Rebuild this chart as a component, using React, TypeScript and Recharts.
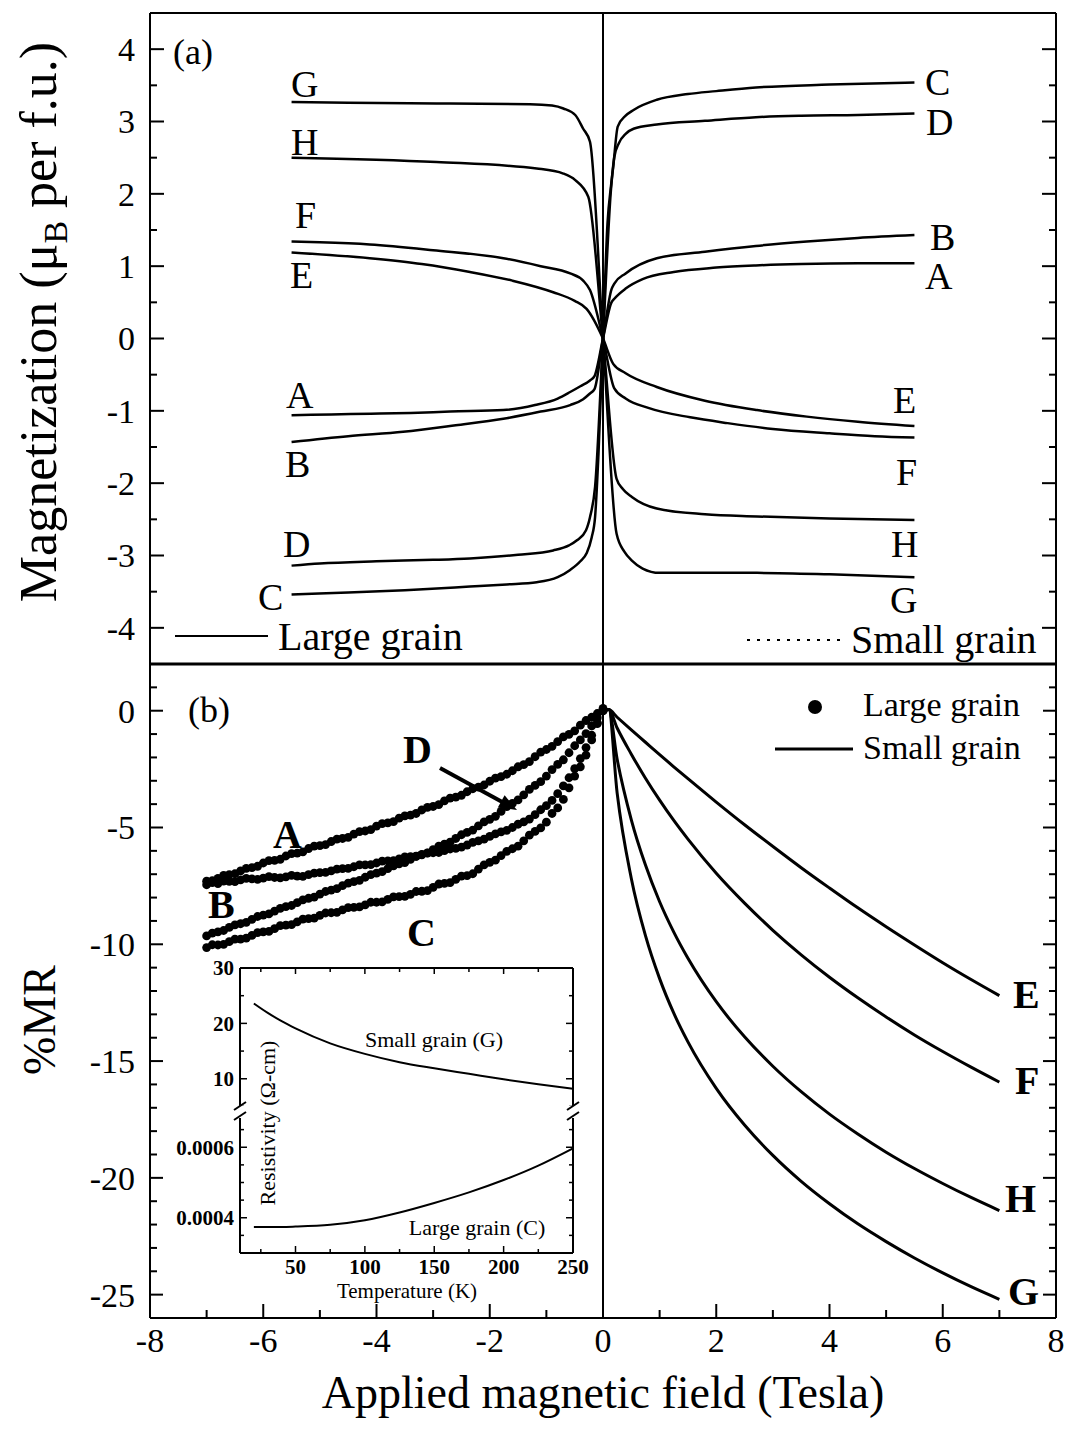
import React from 'react'
import { ComposedChart, Line, Scatter, XAxis, YAxis, ReferenceLine } from 'recharts'

const SERIF = '"Liberation Serif", "Times New Roman", Times, serif'

// ---------- ticks ----------
const fieldTicks = [-8, -7, -6, -5, -4, -3, -2, -1, 0, 1, 2, 3, 4, 5, 6, 7, 8]
const fieldMajors = [-8, -6, -4, -2, 0, 2, 4, 6, 8]
const magTicks = [-4, -3.5, -3, -2.5, -2, -1.5, -1, -0.5, 0, 0.5, 1, 1.5, 2, 2.5, 3, 3.5, 4]
const magMajors = [-4, -3, -2, -1, 0, 1, 2, 3, 4]
const mrTicks = [-25, -24, -23, -22, -21, -20, -19, -18, -17, -16, -15, -14, -13, -12, -11, -10, -9, -8, -7, -6, -5, -4, -3, -2, -1, 0, 1]
const mrMajors = [-25, -20, -15, -10, -5, 0]
const tempTicks = [25, 50, 75, 100, 125, 150, 175, 200, 225, 250]
const tempMajors = [50, 100, 150, 200, 250]
const resHiTicks = [5, 10, 15, 20, 25, 30]
const resHiMajors = [10, 20, 30]
const resLoTicks = [0.00035, 0.0004, 0.00045, 0.0005, 0.00055, 0.0006, 0.00065]
const resLoMajors = [0.0004, 0.0006]

// ---------- panel (a): M(H) loops ----------
const magA = [
  { h: -5.5, m: -1.06 }, { h: -4.8, m: -1.05 }, { h: -4.1, m: -1.04 }, { h: -3.4, m: -1.03 }, { h: -2.7, m: -1.01 },
  { h: -1.76, m: -0.99 }, { h: -1.2, m: -0.92 }, { h: -0.8, m: -0.83 }, { h: -0.58, m: -0.74 }, { h: -0.4, m: -0.66 },
  { h: -0.23, m: -0.58 }, { h: -0.15, m: -0.52 }, { h: 0, m: 0 }, { h: 0.15, m: 0.5 }, { h: 0.2, m: 0.55 },
  { h: 0.4, m: 0.69 }, { h: 0.7, m: 0.82 }, { h: 1.25, m: 0.92 }, { h: 2.0, m: 0.98 }, { h: 2.7, m: 1.01 },
  { h: 3.5, m: 1.03 }, { h: 4.5, m: 1.04 }, { h: 5.5, m: 1.04 },
]
const magB = [
  { h: -5.5, m: -1.43 }, { h: -4.5, m: -1.35 }, { h: -3.53, m: -1.29 }, { h: -2.6, m: -1.2 }, { h: -1.76, m: -1.11 },
  { h: -1.1, m: -1.01 }, { h: -0.58, m: -0.92 }, { h: -0.35, m: -0.84 }, { h: -0.23, m: -0.76 }, { h: -0.15, m: -0.7 },
  { h: 0, m: 0 }, { h: 0.15, m: 0.68 }, { h: 0.2, m: 0.76 }, { h: 0.4, m: 0.9 }, { h: 0.95, m: 1.11 },
  { h: 1.8, m: 1.2 }, { h: 2.7, m: 1.28 }, { h: 3.6, m: 1.34 }, { h: 4.5, m: 1.39 }, { h: 5.5, m: 1.43 },
]
const magC = [
  { h: -5.5, m: -3.54 }, { h: -4.5, m: -3.51 }, { h: -3.5, m: -3.48 }, { h: -2.35, m: -3.43 }, { h: -1.7, m: -3.4 },
  { h: -1.17, m: -3.37 }, { h: -0.8, m: -3.3 }, { h: -0.58, m: -3.2 }, { h: -0.4, m: -3.08 }, { h: -0.29, m: -2.97 },
  { h: -0.2, m: -2.75 }, { h: -0.14, m: -2.47 }, { h: -0.08, m: -1.6 }, { h: 0, m: 0 }, { h: 0.08, m: 1.6 },
  { h: 0.14, m: 2.1 }, { h: 0.18, m: 2.37 }, { h: 0.26, m: 2.93 }, { h: 0.4, m: 3.08 }, { h: 0.54, m: 3.16 },
  { h: 0.95, m: 3.3 }, { h: 1.5, m: 3.38 }, { h: 2.0, m: 3.42 }, { h: 2.7, m: 3.47 }, { h: 4.0, m: 3.51 }, { h: 5.5, m: 3.54 },
]
const magD = [
  { h: -5.5, m: -3.14 }, { h: -5.0, m: -3.11 }, { h: -4.0, m: -3.08 }, { h: -3.0, m: -3.06 }, { h: -2.35, m: -3.04 },
  { h: -1.5, m: -2.99 }, { h: -0.88, m: -2.93 }, { h: -0.6, m: -2.86 }, { h: -0.46, m: -2.79 }, { h: -0.3, m: -2.65 },
  { h: -0.23, m: -2.47 }, { h: -0.14, m: -2.05 }, { h: 0, m: 0 }, { h: 0.14, m: 2.05 }, { h: 0.2, m: 2.51 },
  { h: 0.28, m: 2.7 }, { h: 0.4, m: 2.83 }, { h: 0.54, m: 2.9 }, { h: 0.95, m: 2.96 }, { h: 1.8, m: 3.01 },
  { h: 2.7, m: 3.06 }, { h: 3.5, m: 3.08 }, { h: 4.5, m: 3.09 }, { h: 5.5, m: 3.11 },
]
const magE = [
  { h: -5.5, m: 1.19 }, { h: -4.12, m: 1.11 }, { h: -3.2, m: 1.03 }, { h: -2.35, m: 0.92 }, { h: -1.6, m: 0.8 },
  { h: -0.88, m: 0.64 }, { h: -0.5, m: 0.52 }, { h: -0.29, m: 0.41 }, { h: 0, m: 0 }, { h: 0.18, m: -0.35 },
  { h: 0.4, m: -0.48 }, { h: 0.95, m: -0.67 }, { h: 1.8, m: -0.86 }, { h: 2.72, m: -0.99 }, { h: 3.6, m: -1.08 },
  { h: 4.5, m: -1.15 }, { h: 5.5, m: -1.21 },
]
const magF = [
  { h: -5.5, m: 1.34 }, { h: -5.0, m: 1.33 }, { h: -4.12, m: 1.3 }, { h: -3.0, m: 1.22 }, { h: -1.76, m: 1.11 },
  { h: -1.1, m: 1.0 }, { h: -0.58, m: 0.9 }, { h: -0.35, m: 0.8 }, { h: -0.23, m: 0.67 }, { h: 0, m: 0 },
  { h: 0.2, m: -0.69 }, { h: 0.4, m: -0.83 }, { h: 0.8, m: -0.96 }, { h: 1.54, m: -1.09 }, { h: 2.2, m: -1.17 },
  { h: 3.0, m: -1.25 }, { h: 4.0, m: -1.31 }, { h: 4.8, m: -1.35 }, { h: 5.5, m: -1.37 },
]
const magG = [
  { h: -5.5, m: 3.27 }, { h: -4.5, m: 3.26 }, { h: -2.94, m: 3.25 }, { h: -1.29, m: 3.24 }, { h: -0.9, m: 3.22 },
  { h: -0.7, m: 3.18 }, { h: -0.49, m: 3.09 }, { h: -0.35, m: 2.9 }, { h: -0.23, m: 2.72 }, { h: 0, m: 0 },
  { h: 0.24, m: -2.7 }, { h: 0.38, m: -2.95 }, { h: 0.51, m: -3.07 }, { h: 0.7, m: -3.18 }, { h: 1.0, m: -3.24 },
  { h: 2.72, m: -3.24 }, { h: 4.0, m: -3.26 }, { h: 5.5, m: -3.3 },
]
const magH = [
  { h: -5.5, m: 2.5 }, { h: -2.94, m: 2.44 }, { h: -1.17, m: 2.35 }, { h: -0.7, m: 2.28 }, { h: -0.49, m: 2.19 },
  { h: -0.26, m: 1.96 }, { h: 0, m: 0 }, { h: 0.24, m: -1.94 }, { h: 0.35, m: -2.08 }, { h: 0.51, m: -2.19 },
  { h: 0.95, m: -2.35 }, { h: 1.8, m: -2.43 }, { h: 2.72, m: -2.46 }, { h: 4.0, m: -2.49 }, { h: 5.5, m: -2.51 },
]
const magCurves = [magA, magB, magC, magD, magE, magF, magG, magH]

// ---------- panel (b): large grain dots (A-D), two field sweeps ----------
const sweepUp = [
  -7.0, -6.8, -6.6, -6.4, -6.2, -6.0, -5.8, -5.6, -5.4, -5.2, -5.0, -4.8, -4.6, -4.4, -4.2, -4.0, -3.8, -3.6,
  -3.4, -3.2, -3.0, -2.8, -2.6, -2.4, -2.2, -2.0, -1.8, -1.6, -1.4, -1.2, -1.0, -0.8, -0.6, -0.4, -0.2, 0.0,
]
const sweepDown = [
  -6.9, -6.7, -6.5, -6.3, -6.1, -5.9, -5.7, -5.5, -5.3, -5.1, -4.9, -4.7, -4.5, -4.3, -4.1, -3.9, -3.7, -3.5,
  -3.3, -3.1, -2.9, -2.7, -2.5, -2.3, -2.1, -1.9, -1.7, -1.5, -1.3, -1.1, -0.9, -0.7, -0.5, -0.3, -0.1,
]
const mrA = [
  -7.3, -7.18, -7.02, -6.86, -6.72, -6.52, -6.41, -6.22, -6.1, -5.9, -5.78, -5.6, -5.47, -5.28, -5.15, -4.94, -4.8, -4.6,
  -4.47, -4.25, -4.1, -3.86, -3.7, -3.47, -3.27, -3.02, -2.82, -2.57, -2.31, -1.97, -1.66, -1.32, -1.01, -0.62, -0.28, 0.1,
]
const mrA2 = [
  -7.28, -7.05, -6.98, -6.75, -6.66, -6.42, -6.36, -6.12, -6.04, -5.8, -5.73, -5.5, -5.42, -5.18, -5.09, -4.83, -4.75, -4.5,
  -4.4, -4.14, -4.02, -3.74, -3.62, -3.34, -3.18, -2.89, -2.72, -2.4, -2.18, -1.77, -1.53, -1.12, -0.86, -0.42, -0.12,
]
const mrB = [
  -9.64, -9.47, -9.28, -9.12, -8.93, -8.75, -8.58, -8.39, -8.22, -8.03, -7.85, -7.68, -7.49, -7.32, -7.13, -6.95, -6.76, -6.56,
  -6.36, -6.15, -5.95, -5.71, -5.47, -5.21, -4.93, -4.65, -4.31, -3.97, -3.6, -3.2, -2.8, -2.3, -1.8, -1.25, -0.65, 0.0,
]
const mrB2 = [
  -9.52, -9.41, -9.17, -9.06, -8.81, -8.7, -8.46, -8.34, -8.1, -7.98, -7.74, -7.62, -7.38, -7.26, -7.02, -6.89, -6.64, -6.5,
  -6.23, -6.09, -5.8, -5.63, -5.31, -5.11, -4.76, -4.52, -4.11, -3.82, -3.37, -3.04, -2.52, -2.1, -1.5, -0.98, -0.3,
]
const mrC = [
  -10.14, -10.03, -9.89, -9.78, -9.62, -9.47, -9.33, -9.18, -9.04, -8.9, -8.76, -8.65, -8.53, -8.42, -8.31, -8.2, -8.08, -7.96,
  -7.86, -7.73, -7.56, -7.39, -7.22, -7.06, -6.78, -6.49, -6.2, -5.91, -5.57, -5.17, -4.77, -4.16, -3.3, -2.4, -1.25, 0.0,
]
const mrC2 = [
  -10.02, -10.0, -9.78, -9.74, -9.5, -9.45, -9.2, -9.16, -8.92, -8.88, -8.66, -8.63, -8.43, -8.4, -8.2, -8.18, -7.97, -7.95,
  -7.74, -7.7, -7.42, -7.36, -7.08, -6.98, -6.6, -6.4, -6.02, -5.8, -5.33, -5.02, -4.4, -3.8, -2.8, -1.9, -0.55,
]
const mrD = [
  -7.45, -7.4, -7.31, -7.24, -7.2, -7.17, -7.14, -7.11, -7.08, -7.02, -6.93, -6.86, -6.76, -6.68, -6.6, -6.52, -6.43, -6.34,
  -6.25, -6.17, -6.08, -5.99, -5.89, -5.75, -5.57, -5.38, -5.19, -5.0, -4.76, -4.45, -4.06, -3.55, -2.87, -2.05, -1.05, 0.0,
]
const mrD2 = [
  -7.36, -7.3, -7.32, -7.18, -7.22, -7.1, -7.16, -7.05, -7.09, -6.95, -6.92, -6.78, -6.75, -6.6, -6.59, -6.44, -6.42, -6.26,
  -6.24, -6.1, -6.07, -5.92, -5.84, -5.64, -5.5, -5.27, -5.12, -4.86, -4.64, -4.24, -3.84, -3.22, -2.48, -1.58, -0.52,
]

// ---------- panel (b): small grain lines (E-H) ----------
const lineField = [0, 0.1, 0.25, 0.5, 0.75, 1, 1.25, 1.5, 2, 2.5, 3, 3.5, 4, 4.5, 5, 5.5, 6, 6.5, 7]
const mrE = [0, 0.05, -0.28, -0.82, -1.35, -1.88, -2.4, -2.91, -3.91, -4.88, -5.81, -6.72, -7.59, -8.44, -9.25, -10.03, -10.79, -11.51, -12.2]
const mrF = [0, 0.05, -0.74, -1.86, -2.89, -3.83, -4.7, -5.5, -6.96, -8.24, -9.4, -10.45, -11.41, -12.29, -13.11, -13.88, -14.59, -15.26, -15.9]
const mrH = [0, 0.05, -2.08, -4.67, -6.61, -8.18, -9.48, -10.6, -12.46, -13.96, -15.22, -16.31, -17.27, -18.12, -18.9, -19.6, -20.24, -20.84, -21.4]
const mrG = [0, 0.05, -3.53, -7.18, -9.63, -11.47, -12.95, -14.18, -16.17, -17.74, -19.04, -20.15, -21.11, -21.97, -22.73, -23.43, -24.07, -24.66, -25.2]

// ---------- inset: resistivity vs temperature ----------
const insetTemp = [20, 30, 40, 50, 75, 100, 125, 150, 175, 200, 225, 250]
const resSmall = [23.6, 21.9, 20.4, 19.1, 16.4, 14.5, 13.0, 11.9, 10.9, 9.9, 9.0, 8.2]
const resLarge = [0.000374, 0.000374, 0.000374, 0.000375, 0.00038, 0.000393, 0.000415, 0.000442, 0.000472, 0.000507, 0.000548, 0.000597]

const toPts = (field: number[], vals: number[]) => field.map((h, i) => ({ h, mr: vals[i] }))
const dotSets = [
  toPts(sweepUp, mrA), toPts(sweepDown, mrA2), toPts(sweepUp, mrB), toPts(sweepDown, mrB2),
  toPts(sweepUp, mrC), toPts(sweepDown, mrC2), toPts(sweepUp, mrD), toPts(sweepDown, mrD2),
]
const lineSets = [mrE, mrF, mrH, mrG].map(vals => toPts(lineField, vals))
const smallRes = insetTemp.map((t, i) => ({ t, r: resSmall[i] }))
const largeRes = insetTemp.map((t, i) => ({ t, r: resLarge[i] }))

const AX = { stroke: '#000', strokeWidth: 2 }

interface TickOpt {
  side: 'left' | 'right' | 'top' | 'bottom'
  majors: number[]
  len: number
  minor: number
  label?: boolean
  size?: number
  bold?: boolean
  gap?: number
  sw?: number
  fmt?: (v: number) => string
}

const isIn = (v: number, list: number[]) => list.some(t => Math.abs(t - v) < 1e-9)

// inward ticks, labels only on majors
const tickOf = (o: TickOpt) => (props: any) => {
  const { x, y, payload } = props
  const v = Number(payload?.value)
  const major = isIn(v, o.majors)
  const l = major ? o.len : o.minor
  const sw = o.sw ?? 2
  const txt = o.fmt ? o.fmt(v) : String(v)
  const font = { fontFamily: SERIF, fontSize: o.size ?? 34, fontWeight: o.bold ? 700 : 400, fill: '#000' }
  if (o.side === 'left') {
    return (
      <g>
        <line x1={x} x2={x + l} y1={y} y2={y} stroke="#000" strokeWidth={sw} />
        {o.label && major && <text x={x - (o.gap ?? 14)} y={y} dy="0.35em" textAnchor="end" {...font}>{txt}</text>}
      </g>
    )
  }
  if (o.side === 'right') return <line x1={x - l} x2={x} y1={y} y2={y} stroke="#000" strokeWidth={sw} />
  if (o.side === 'top') return <line x1={x} x2={x} y1={y} y2={y + l} stroke="#000" strokeWidth={sw} />
  return (
    <g>
      <line x1={x} x2={x} y1={y - l} y2={y} stroke="#000" strokeWidth={sw} />
      {o.label && major && <text x={x} y={y + (o.gap ?? 33)} textAnchor="middle" {...font}>{txt}</text>}
    </g>
  )
}

const Dot = (p: any) => <circle cx={p.cx} cy={p.cy} r={4.4} fill="#000" />

const App = () => (
  <div style={{ position: 'absolute', left: 0, top: 0, width: 1071, height: 1433, background: '#fff', fontFamily: SERIF }}>
    {/* panel (b) */}
    <div style={{ position: 'absolute', left: 0, top: 640 }}>
      <ComposedChart width={1071} height={793} margin={{ left: 90, right: 5, top: 24, bottom: 105 }}>
        <XAxis xAxisId="b" type="number" dataKey="h" domain={[-8, 8]} ticks={fieldTicks} interval={0} height={10}
          tickSize={0} tickMargin={0} tickLine={false} axisLine={AX} allowDataOverflow
          tick={tickOf({ side: 'bottom', majors: fieldMajors, len: 14, minor: 8, label: true, size: 34, gap: 34 })} />
        <YAxis yAxisId="l" type="number" domain={[-26, 2]} ticks={mrTicks} interval={0} width={60}
          tickSize={0} tickMargin={0} tickLine={false} axisLine={AX} allowDataOverflow
          tick={tickOf({ side: 'left', majors: mrMajors, len: 13, minor: 7, label: true, size: 34, gap: 15 })} />
        <YAxis yAxisId="r" orientation="right" type="number" domain={[-26, 2]} ticks={mrTicks} interval={0} width={10}
          tickSize={0} tickMargin={0} tickLine={false} axisLine={AX} allowDataOverflow
          tick={tickOf({ side: 'right', majors: mrMajors, len: 13, minor: 7 })} />
        <ReferenceLine x={0} xAxisId="b" yAxisId="l" stroke="#000" strokeWidth={2} />
        {dotSets.map((d, i) => (
          <Scatter key={'d' + i} data={d} dataKey="mr" xAxisId="b" yAxisId="l" shape={Dot} isAnimationActive={false} />
        ))}
        {lineSets.map((d, i) => (
          <Line key={'l' + i} data={d} dataKey="mr" xAxisId="b" yAxisId="l" type="monotone" dot={false}
            stroke="#000" strokeWidth={3} isAnimationActive={false} />
        ))}
      </ComposedChart>
    </div>

    {/* inset, upper part (small grain) */}
    <div style={{ position: 'absolute', left: 160, top: 940 }}>
      <ComposedChart width={440} height={172} margin={{ left: 40, right: 17, top: 18, bottom: 0 }}>
        <XAxis xAxisId="t" orientation="top" type="number" dataKey="t" domain={[10, 250]} ticks={tempTicks} interval={0}
          height={10} tickSize={0} tickMargin={0} tickLine={false} axisLine={AX} allowDataOverflow
          tick={tickOf({ side: 'top', majors: tempMajors, len: 6, minor: 4, sw: 1.5 })} />
        <YAxis yAxisId="l" type="number" domain={[4, 30]} ticks={resHiTicks} interval={0} width={40}
          tickSize={0} tickMargin={0} tickLine={false} axisLine={AX} allowDataOverflow
          tick={tickOf({ side: 'left', majors: resHiMajors, len: 7, minor: 4, sw: 1.5, label: true, bold: true, size: 21, gap: 6 })} />
        <YAxis yAxisId="r" orientation="right" type="number" domain={[4, 30]} ticks={resHiTicks} interval={0} width={10}
          tickSize={0} tickMargin={0} tickLine={false} axisLine={AX} allowDataOverflow
          tick={tickOf({ side: 'right', majors: resHiMajors, len: 7, minor: 4, sw: 1.5 })} />
        <Line data={smallRes} dataKey="r" xAxisId="t" yAxisId="l" type="monotone" dot={false}
          stroke="#000" strokeWidth={2} isAnimationActive={false} />
      </ComposedChart>
    </div>

    {/* inset, lower part (large grain) */}
    <div style={{ position: 'absolute', left: 160, top: 1112 }}>
      <ComposedChart width={440} height={200} margin={{ left: 40, right: 17, top: 0, bottom: 49 }}>
        <XAxis xAxisId="b" type="number" dataKey="t" domain={[10, 250]} ticks={tempTicks} interval={0}
          height={10} tickSize={0} tickMargin={0} tickLine={false} axisLine={AX} allowDataOverflow
          tick={tickOf({ side: 'bottom', majors: tempMajors, len: 7, minor: 4, sw: 1.5, label: true, bold: true, size: 21, gap: 21 })} />
        <YAxis yAxisId="l" type="number" domain={[0.0003, 0.0007]} ticks={resLoTicks} interval={0} width={40}
          tickSize={0} tickMargin={0} tickLine={false} axisLine={AX} allowDataOverflow
          tick={tickOf({ side: 'left', majors: resLoMajors, len: 7, minor: 4, sw: 1.5, label: true, bold: true, size: 21, gap: 6, fmt: v => v.toFixed(4) })} />
        <YAxis yAxisId="r" orientation="right" type="number" domain={[0.0003, 0.0007]} ticks={resLoTicks} interval={0} width={10}
          tickSize={0} tickMargin={0} tickLine={false} axisLine={AX} allowDataOverflow
          tick={tickOf({ side: 'right', majors: resLoMajors, len: 7, minor: 4, sw: 1.5 })} />
        <Line data={largeRes} dataKey="r" xAxisId="b" yAxisId="l" type="monotone" dot={false}
          stroke="#000" strokeWidth={2} isAnimationActive={false} />
      </ComposedChart>
    </div>

    {/* panel (a) */}
    <div style={{ position: 'absolute', left: 0, top: 0 }}>
      <ComposedChart width={1071} height={700} margin={{ left: 90, right: 5, top: 3, bottom: 26 }}>
        <XAxis xAxisId="b" type="number" dataKey="h" domain={[-8, 8]} ticks={fieldTicks} height={10}
          tick={false} tickLine={false} axisLine={{ stroke: '#000', strokeWidth: 3 }} allowDataOverflow />
        <XAxis xAxisId="t" orientation="top" type="number" domain={[-8, 8]} ticks={fieldTicks} interval={0} height={10}
          tickSize={0} tickMargin={0} tickLine={false} axisLine={AX} allowDataOverflow
          tick={tickOf({ side: 'top', majors: fieldMajors, len: 8, minor: 5 })} />
        <YAxis yAxisId="l" type="number" domain={[-4.5, 4.5]} ticks={magTicks} interval={0} width={60}
          tickSize={0} tickMargin={0} tickLine={false} axisLine={AX} allowDataOverflow
          tick={tickOf({ side: 'left', majors: magMajors, len: 14, minor: 7, label: true, size: 34, gap: 15 })} />
        <YAxis yAxisId="r" orientation="right" type="number" domain={[-4.5, 4.5]} ticks={magTicks} interval={0} width={10}
          tickSize={0} tickMargin={0} tickLine={false} axisLine={AX} allowDataOverflow
          tick={tickOf({ side: 'right', majors: magMajors, len: 14, minor: 7 })} />
        <ReferenceLine x={0} xAxisId="b" yAxisId="l" stroke="#000" strokeWidth={2} />
        {magCurves.map((d, i) => (
          <Line key={'m' + i} data={d} dataKey="m" xAxisId="b" yAxisId="l" type="monotone" dot={false}
            stroke="#000" strokeWidth={2.5} isAnimationActive={false} />
        ))}
      </ComposedChart>
    </div>

    {/* annotations */}
    <svg width={1071} height={1433} style={{ position: 'absolute', left: 0, top: 0, pointerEvents: 'none' }}
      fontFamily={SERIF} fill="#000">
      <text x={56} y={322} transform="rotate(-90 56 322)" textAnchor="middle" fontSize={52}>
        Magnetization (μ<tspan dy={11} fontSize={34}>B</tspan><tspan dy={-11}> per f.u.)</tspan>
      </text>
      <text x={55} y={1020} transform="rotate(-90 55 1020)" textAnchor="middle" fontSize={46}>%MR</text>
      <text x={603} y={1408} textAnchor="middle" fontSize={46}>Applied magnetic field (Tesla)</text>

      <text x={173} y={64} fontSize={36}>(a)</text>
      <text x={188} y={722} fontSize={36}>(b)</text>

      <g fontSize={38}>
        <text x={291} y={97}>G</text>
        <text x={291} y={155}>H</text>
        <text x={295} y={228}>F</text>
        <text x={290} y={288}>E</text>
        <text x={925} y={95}>C</text>
        <text x={926} y={135}>D</text>
        <text x={930} y={250}>B</text>
        <text x={925} y={289}>A</text>
        <text x={286} y={408}>A</text>
        <text x={285} y={477}>B</text>
        <text x={283} y={557}>D</text>
        <text x={258} y={610}>C</text>
        <text x={893} y={413}>E</text>
        <text x={896} y={485}>F</text>
        <text x={891} y={557}>H</text>
        <text x={890} y={613}>G</text>
      </g>

      <line x1={175} x2={268} y1={636} y2={636} stroke="#000" strokeWidth={2} />
      <text x={278} y={650} fontSize={40}>Large grain</text>
      <line x1={747} x2={842} y1={640} y2={640} stroke="#000" strokeWidth={2} strokeDasharray="3 7" />
      <text x={851} y={653} fontSize={40}>Small grain</text>

      <circle cx={815} cy={707} r={7} fill="#000" />
      <text x={863} y={716} fontSize={34}>Large grain</text>
      <line x1={775} x2={853} y1={749} y2={749} stroke="#000" strokeWidth={3} />
      <text x={863} y={759} fontSize={34}>Small grain</text>

      <g fontSize={40} fontWeight={700}>
        <text x={273} y={848}>A</text>
        <text x={208} y={918}>B</text>
        <text x={407} y={946}>C</text>
        <text x={403} y={763}>D</text>
        <text x={1013} y={1008}>E</text>
        <text x={1015} y={1094}>F</text>
        <text x={1005} y={1212}>H</text>
        <text x={1008} y={1305}>G</text>
      </g>
      <line x1={440} y1={768} x2={505} y2={803.5} stroke="#000" strokeWidth={4} />
      <polygon points="517,810 497.8,807.5 504.6,795.2" fill="#000" />

      {/* inset texts */}
      <text x={434} y={1047} textAnchor="middle" fontSize={22}>Small grain (G)</text>
      <text x={477} y={1235} textAnchor="middle" fontSize={22}>Large grain (C)</text>
      <text x={407} y={1298} textAnchor="middle" fontSize={21}>Temperature (K)</text>
      <text x={275} y={1123} transform="rotate(-90 275 1123)" textAnchor="middle" fontSize={22}>Resistivity (Ω-cm)</text>

      {/* axis breaks */}
      <rect x={236} y={1106} width={9} height={12} fill="#fff" />
      <rect x={569} y={1106} width={9} height={12} fill="#fff" />
      <line x1={234} y1={1110} x2={246} y2={1102} stroke="#000" strokeWidth={2} />
      <line x1={234} y1={1120} x2={246} y2={1112} stroke="#000" strokeWidth={2} />
      <line x1={567} y1={1110} x2={579} y2={1102} stroke="#000" strokeWidth={2} />
      <line x1={567} y1={1120} x2={579} y2={1112} stroke="#000" strokeWidth={2} />
    </svg>
  </div>
)

export default App
